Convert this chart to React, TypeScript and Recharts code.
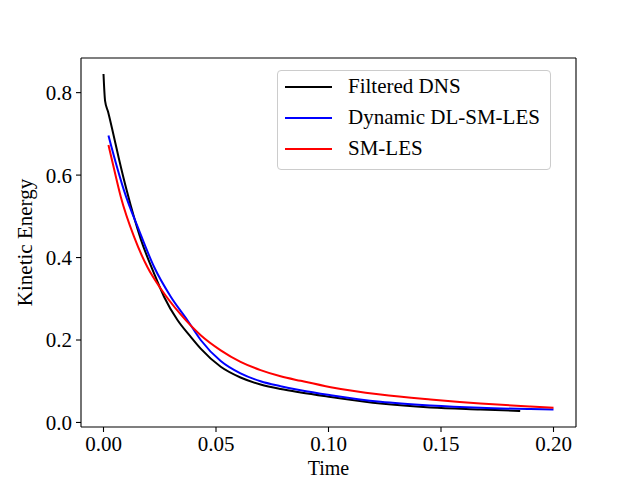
import { LineChart, Line, XAxis, YAxis, Legend, Label, ReferenceLine } from "recharts";

const dnsTime = [0, 0.0007, 0.002, 0.0038, 0.0068, 0.0103, 0.0166, 0.0225, 0.0269, 0.0328, 0.0387, 0.0432, 0.0521, 0.0609, 0.0698, 0.0787, 0.0876, 0.101, 0.1231, 0.1453, 0.1675, 0.1852];
const dnsKE = [0.845, 0.78, 0.754, 0.713, 0.641, 0.563, 0.444, 0.361, 0.305, 0.249, 0.208, 0.179, 0.135, 0.109, 0.092, 0.081, 0.0727, 0.062, 0.046, 0.0364, 0.0315, 0.028];

const dlTime = [0.0022, 0.0053, 0.0091, 0.0158, 0.0225, 0.0299, 0.0373, 0.0432, 0.0521, 0.0609, 0.0698, 0.0787, 0.0876, 0.101, 0.1231, 0.1453, 0.1675, 0.1897, 0.2];
const dlKE = [0.696, 0.633, 0.563, 0.466, 0.377, 0.305, 0.248, 0.2, 0.149, 0.119, 0.1, 0.088, 0.078, 0.066, 0.05, 0.041, 0.0355, 0.0325, 0.0315];

const smTime = [0.0022, 0.0046, 0.0077, 0.0136, 0.0195, 0.0254, 0.0343, 0.0432, 0.0521, 0.0609, 0.0698, 0.0787, 0.0876, 0.101, 0.1231, 0.1453, 0.1675, 0.1897, 0.2];
const smKE = [0.673, 0.617, 0.547, 0.45, 0.377, 0.325, 0.262, 0.2116, 0.175, 0.147, 0.127, 0.112, 0.101, 0.0856, 0.0679, 0.0558, 0.046, 0.0385, 0.0354];

const xTicks = [0, 0.05, 0.1, 0.15, 0.2];
const yTicks = [0, 0.2, 0.4, 0.6, 0.8];

const xDomain = [-0.01, 0.21];
const yDomain = [-0.011, 0.884];

const toPoints = (ts: number[], ks: number[]) => ts.map((t, i) => ({ t, ke: ks[i] }));

const series = [
  { name: "Filtered DNS", color: "#000000", data: toPoints(dnsTime, dnsKE) },
  { name: "Dynamic DL-SM-LES", color: "#0000ff", data: toPoints(dlTime, dlKE) },
  { name: "SM-LES", color: "#ff0000", data: toPoints(smTime, smKE) },
];

const font = "'Liberation Serif', 'Times New Roman', serif";
const tickStyle = { fontFamily: font, fontSize: 21, fill: "#000" };

function LegendBox() {
  return (
    <div
      style={{
        border: "1px solid #cccccc",
        borderRadius: 4,
        background: "rgba(255,255,255,0.8)",
        padding: "0 10px 5px 7px",
        fontFamily: font,
        fontSize: 21,
        color: "#000",
      }}
    >
      {series.map((s) => (
        <div key={s.name} style={{ display: "flex", alignItems: "center", height: 31 }}>
          <div style={{ width: 47, height: 2, background: s.color, marginRight: 16 }} />
          <span style={{ whiteSpace: "nowrap" }}>{s.name}</span>
        </div>
      ))}
    </div>
  );
}

export default function App() {
  return (
    <div style={{ position: "absolute", left: 0, top: 0, background: "#fff" }}>
      <LineChart width={640} height={480} margin={{ top: 58, right: 64, bottom: 0, left: 0 }}>
        <XAxis
          dataKey="t"
          type="number"
          domain={xDomain}
          ticks={xTicks}
          allowDataOverflow
          tickFormatter={(v: number) => v.toFixed(2)}
          tick={tickStyle}
          tickSize={5}
          tickMargin={4}
          height={53}
          axisLine={{ stroke: "#000", strokeWidth: 1.1 }}
          tickLine={{ stroke: "#000", strokeWidth: 1.1 }}
        >
          <Label value="Time" position="insideBottom" offset={5} style={{ fontFamily: font, fontSize: 20, fill: "#000" }} />
        </XAxis>
        <YAxis
          type="number"
          domain={yDomain}
          ticks={yTicks}
          allowDataOverflow
          tickFormatter={(v: number) => v.toFixed(1)}
          tick={tickStyle}
          tickSize={5}
          tickMargin={4}
          width={81}
          axisLine={{ stroke: "#000", strokeWidth: 1.1 }}
          tickLine={{ stroke: "#000", strokeWidth: 1.1 }}
        >
          <Label
            value="Kinetic Energy"
            angle={-90}
            position="center"
            dx={-16}
            style={{ fontFamily: font, fontSize: 21, fill: "#000", textAnchor: "middle" }}
          />
        </YAxis>
        {/* top and right spines */}
        <ReferenceLine y={yDomain[1]} stroke="#000" strokeWidth={1.1} ifOverflow="extendDomain" />
        <ReferenceLine x={xDomain[1]} stroke="#000" strokeWidth={1.1} ifOverflow="extendDomain" />
        {series.map((s) => (
          <Line
            key={s.name}
            data={s.data}
            dataKey="ke"
            name={s.name}
            type="monotone"
            stroke={s.color}
            strokeWidth={2}
            dot={false}
            activeDot={false}
            isAnimationActive={false}
          />
        ))}
        <Legend
          layout="vertical"
          align="center"
          verticalAlign="middle"
          content={() => <LegendBox />}
          wrapperStyle={{ left: 277, top: 70, width: "auto" }}
        />
      </LineChart>
    </div>
  );
}
